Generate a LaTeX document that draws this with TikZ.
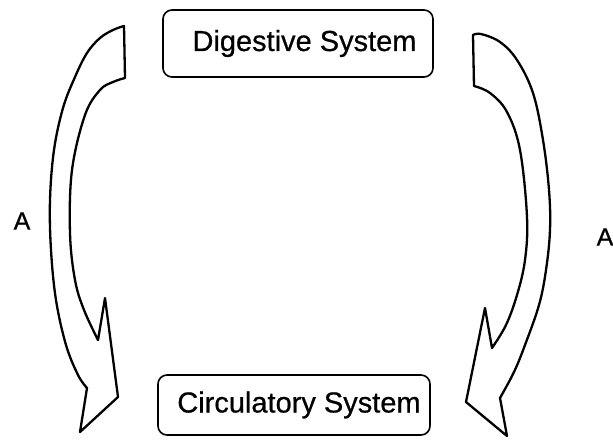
\documentclass[tikz,border=0pt]{standalone}
\usepackage{fontspec}
\setmainfont{Liberation Sans}[FakeBold=0.6]
\begin{document}
\begin{tikzpicture}[x=1pt,y=-1pt,
  sysbox/.style={draw=black, line width=1.6pt, rounded corners=9pt, inner sep=0pt,
    font=\fontsize{29}{34}\selectfont\addfontfeature{FakeBold=0.6}},
  blockarrow/.style={draw=black, fill=white, line width=2.3pt, line join=round},
  lbl/.style={font=\fontsize{25}{30}\selectfont\addfontfeature{FakeBold=0.8}, inner sep=0pt}]
\useasboundingbox (0,0) rectangle (613,441);
\fill[white] (0,0) rectangle (613,441);

% boxes
\node[sysbox, minimum width=270pt, minimum height=67pt] (dig) at (298,43.5) {\hspace*{13pt}Digestive System};
\node[sysbox, minimum width=272pt, minimum height=60pt] (circ) at (294,405) {\hspace*{10pt}Circulatory System};

% left block arrow
\draw[blockarrow]
  plot[smooth, tension=0.6] coordinates {(124,26) (113,30) (100,38) (87,53) (75,77) (63,108) (54,150) (50,200) (51,250) (56,300) (66,345) (78,375) (87,388)}
  -- (80,432) -- (118,397) -- (105,298) -- (98,340)
  -- plot[smooth, tension=0.6] coordinates {(98,340) (84,310) (75,280) (70,233) (72,170) (85,115) (100,90) (113,82) (125,78)}
  -- cycle;

% right block arrow
\draw[blockarrow]
  plot[smooth, tension=0.6] coordinates {(473,35) (481,34) (500,42) (517,60) (533,93) (543,140) (549,190) (550,230) (546,270) (539,305) (525,345) (514,372) (500,398)}
  -- (507,436) -- (466,402) -- (485,308) -- (492,348)
  -- plot[smooth, tension=0.6] coordinates {(492,348) (506,325) (517,295) (525,260) (527,217) (520,150) (507,112) (490,93) (474,86)}
  -- cycle;

% labels
\node[lbl] (la) at (22,221) {A};
\node[lbl] (ra) at (605,237) {A};
\end{tikzpicture}
\end{document}
